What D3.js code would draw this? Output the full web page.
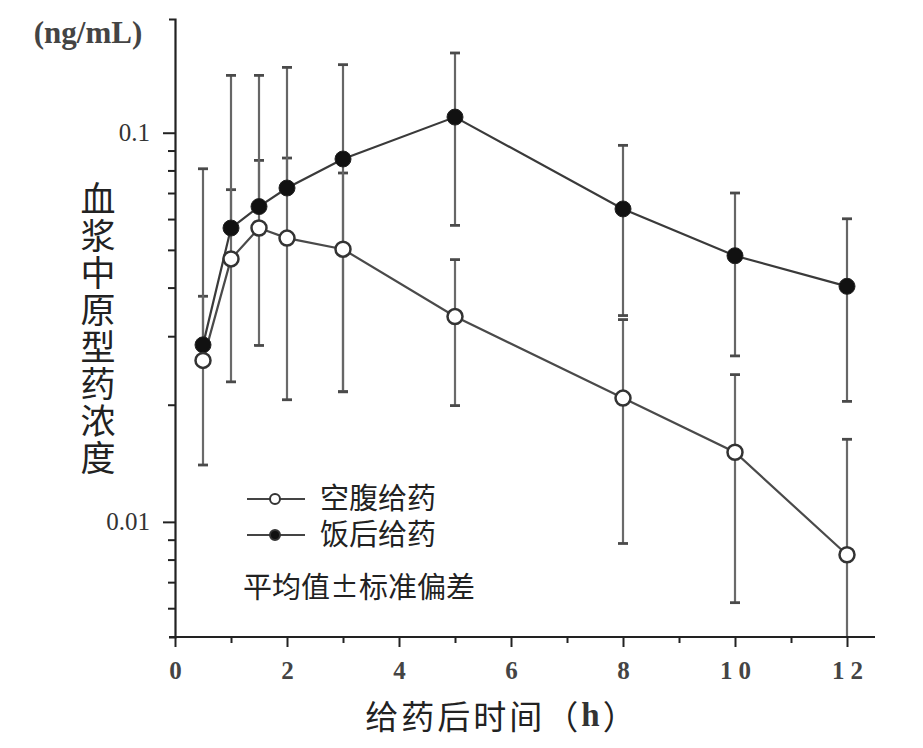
<!DOCTYPE html>
<html><head><meta charset="utf-8">
<script src="https://cdn.jsdelivr.net/npm/d3@7"></script>
<style>
html,body{margin:0;padding:0;background:#fff;}
svg{display:block;}
</style></head>
<body>
<svg id="chart" width="923" height="748"></svg>
<script>
// ---- data ----
const times = [0.5, 1, 1.5, 2, 3, 5, 8, 10, 12];
const fastingMean  = [0.0260, 0.0474, 0.0569, 0.0536, 0.0502, 0.0337, 0.0208, 0.0151, 0.00823];
const fastingUpper = [0.0380, 0.0714, 0.0849, 0.0861, 0.0788, 0.0472, 0.0331, 0.0239, 0.0163];
const fastingLower = [0.0140, 0.0229, 0.0284, 0.0206, 0.0216, 0.0199, 0.0088, 0.0062, 0.0002];
const fedMean  = [0.0285, 0.0569, 0.0646, 0.0721, 0.0856, 0.1097, 0.0637, 0.0483, 0.0403];
const fedUpper = [0.0808, 0.1404, 0.1404, 0.1472, 0.1496, 0.1603, 0.0928, 0.0700, 0.0601];
const fedLower = [null, null, null, null, 0.0216, 0.0578, 0.0339, 0.0267, 0.0204];
const xTicks = [0, 2, 4, 6, 8, 10, 12];
const xMinorTicks = [1, 3, 5, 7, 9, 11];
const yTicks = [0.01, 0.1];
const yTickLabels = ["0.01", "0.1"];
const yMinorTicks = [0.006, 0.007, 0.008, 0.009, 0.02, 0.03, 0.04, 0.05, 0.06, 0.07, 0.08, 0.09];
const unitLabel = "(ng/mL)";
const yTitle = "血浆中原型药浓度";
const xTitleMain = "给药后时间";
const xTitleUnit = ["（", "h", "）"];
const legendLabels = ["空腹给药", "饭后给药"];
const legendNote = "平均值±标准偏差";

const svg = d3.select("#chart");
const x = d3.scaleLinear().domain([0, 12.5]).range([175, 875]);
const y = d3.scaleLog().domain([0.00506, 0.196]).range([637, 19]);
const [yMin, yMax] = y.domain();

svg.append("defs").append("clipPath").attr("id", "plotclip")
  .append("rect").attr("x", 175).attr("y", 19).attr("width", 700).attr("height", 618);

const serif = "'Liberation Serif','DejaVu Serif',serif";
const cjk = "'Noto Sans CJK SC','Noto Sans',sans-serif";
const cjkLegend = "'Liberation Sans','Noto Sans CJK SC',sans-serif";

// ---- error bars ----
function bars(mean, up, lo, color) {
  const g = svg.append("g").attr("clip-path", "url(#plotclip)");
  times.forEach((t, i) => {
    const cx = x(t);
    const segs = [];
    if (up[i] != null) segs.push(up[i]);
    if (lo[i] != null) segs.push(lo[i]);
    segs.forEach(v => {
      g.append("line").attr("x1", cx).attr("x2", cx)
        .attr("y1", y(mean[i])).attr("y2", y(Math.max(v, yMin * 0.5)))
        .attr("stroke", color).attr("stroke-width", 2.2);
      if (v >= yMin && v <= yMax) {
        g.append("line").attr("x1", cx - 5).attr("x2", cx + 5)
          .attr("y1", y(v)).attr("y2", y(v))
          .attr("stroke", "#4a4a4a").attr("stroke-width", 2.8);
      }
    });
  });
}
bars(fastingMean, fastingUpper, fastingLower, "#6a6a6a");
bars(fedMean, fedUpper, fedLower, "#666");

// ---- axes ----
const yAxis = d3.axisLeft(y).tickValues(yTicks)
  .tickFormat((d, i) => yTickLabels[i]).tickSize(12).tickSizeOuter(6).tickPadding(13);
const gy = svg.append("g").attr("transform", "translate(175,0)").call(yAxis);
gy.select(".domain").attr("stroke", "#222").attr("stroke-width", 2.2);
gy.selectAll(".tick line").attr("stroke", "#222").attr("stroke-width", 2);
gy.selectAll(".tick text").attr("font-family", serif).attr("font-size", 25)
  .attr("fill", "#333").attr("dy", "0.3em");
const gym = svg.append("g").attr("transform", "translate(175,0)")
  .call(d3.axisLeft(y).tickValues(yMinorTicks).tickFormat("").tickSize(7).tickSizeOuter(0));
gym.select(".domain").remove();
gym.selectAll(".tick line").attr("stroke", "#222").attr("stroke-width", 2);

const xAxis = d3.axisBottom(x).tickValues(xTicks).tickFormat(d3.format("d"))
  .tickSize(10).tickSizeOuter(0).tickPadding(14);
const gx = svg.append("g").attr("transform", "translate(0,637)").call(xAxis);
gx.select(".domain").attr("stroke", "#222").attr("stroke-width", 2.2)
  .attr("d", "M169,0H875");
gx.selectAll(".tick line").attr("stroke", "#222").attr("stroke-width", 2);
gx.selectAll(".tick text").attr("font-family", serif).attr("font-size", 25)
  .attr("font-weight", "bold").attr("fill", "#444").attr("letter-spacing", "6px")
  .attr("dx", "3px");
const gxm = svg.append("g").attr("transform", "translate(0,637)")
  .call(d3.axisBottom(x).tickValues(xMinorTicks).tickFormat("").tickSize(6).tickSizeOuter(0));
gxm.select(".domain").remove();
gxm.selectAll(".tick line").attr("stroke", "#222").attr("stroke-width", 2);

// ---- lines & markers ----
const line = d3.line().x(d => x(d[0])).y(d => y(d[1]));
const fedPts = times.map((t, i) => [t, fedMean[i]]);
const fastPts = times.map((t, i) => [t, fastingMean[i]]);
svg.append("path").datum(fedPts).attr("d", line).attr("fill", "none")
  .attr("stroke", "#3a3a3a").attr("stroke-width", 2.2);
svg.append("path").datum(fastPts).attr("d", line).attr("fill", "none")
  .attr("stroke", "#4a4a4a").attr("stroke-width", 2.2);
svg.append("g").selectAll("circle").data(fedPts).join("circle")
  .attr("cx", d => x(d[0])).attr("cy", d => y(d[1])).attr("r", 8)
  .attr("fill", "#111").attr("stroke", "#222").attr("stroke-width", 1);
svg.append("g").selectAll("circle").data(fastPts).join("circle")
  .attr("cx", d => x(d[0])).attr("cy", d => y(d[1])).attr("r", 7.5)
  .attr("fill", "#fff").attr("stroke", "#333").attr("stroke-width", 2.5);

// ---- texts ----
svg.append("text").attr("x", 88).attr("y", 43).attr("text-anchor", "middle")
  .attr("font-family", serif).attr("font-size", 31).attr("font-weight", "bold")
  .attr("fill", "#444").text(unitLabel);

svg.append("text").attr("x", 98).attr("y", 181)
  .attr("writing-mode", "vertical-rl").attr("glyph-orientation-vertical", 0)
  .attr("font-family", cjk).attr("font-size", 35).attr("letter-spacing", "2px")
  .attr("fill", "#222").text(yTitle);

const xt = svg.append("text").attr("x", 502).attr("y", 715).attr("text-anchor", "middle")
  .attr("dominant-baseline", "central").attr("font-family", cjk).attr("font-size", 33)
  .attr("letter-spacing", "3px").attr("fill", "#222");
xt.append("tspan").text(xTitleMain);
xt.append("tspan").text(xTitleUnit[0]);
xt.append("tspan").attr("font-family", serif).attr("font-weight", "bold").attr("fill", "#333")
  .text(xTitleUnit[1]);
xt.append("tspan").text(xTitleUnit[2]);

// ---- legend ----
const lg = svg.append("g");
const legY = [499, 535];
legendLabels.forEach((lab, i) => {
  lg.append("line").attr("x1", 247).attr("x2", 305).attr("y1", legY[i]).attr("y2", legY[i])
    .attr("stroke", "#444").attr("stroke-width", 2);
  lg.append("circle").attr("cx", 275).attr("cy", legY[i]).attr("r", 5)
    .attr("fill", i === 0 ? "#fff" : "#111").attr("stroke", "#333").attr("stroke-width", 2);
  lg.append("text").attr("x", 320).attr("y", legY[i] + 10)
    .attr("font-family", cjkLegend).attr("font-size", 29).attr("fill", "#222").text(lab);
});
lg.append("text").attr("x", 243).attr("y", 598)
  .attr("font-family", cjk).attr("font-size", 29).attr("fill", "#222").text(legendNote);
</script>
</body></html>
